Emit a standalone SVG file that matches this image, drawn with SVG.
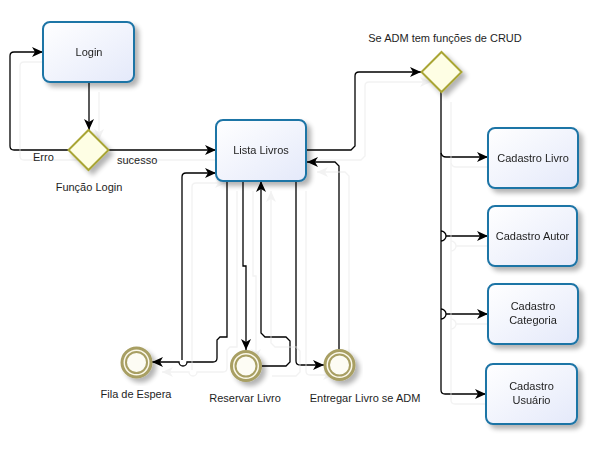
<svg xmlns="http://www.w3.org/2000/svg" width="608" height="449" viewBox="0 0 608 449">
<style>
text{font-family:"Liberation Sans",Arial,sans-serif;font-size:11px;fill:#1e1e1e}
.c{text-anchor:middle}
.task{fill:url(#g);stroke:#1f74a6;stroke-width:2}
.gw{fill:#fefee4;stroke:#a9a534;stroke-width:2}
.ev1{fill:#fbf8ea;stroke:#a89f63;stroke-width:3}
.ev2{fill:#fdfcf4;stroke:#a89f63;stroke-width:2}
.cn path{fill:none;stroke:#000;stroke-width:1.3}
.cn path.a{marker-end:url(#arr)}
</style>
<defs>
<linearGradient id="g" x1="0" y1="0" x2="1" y2="1">
<stop offset="0" stop-color="#ffffff"/>
<stop offset="1" stop-color="#e4e9fa"/>
</linearGradient>
<marker id="arr" markerUnits="userSpaceOnUse" markerWidth="12" markerHeight="10" refX="11" refY="5" orient="auto">
<path d="M0,0 L11,5 L0,10 L3,5 z" fill="#000"/>
</marker>
<filter id="sh" x="-20%" y="-20%" width="150%" height="150%">
<feGaussianBlur in="SourceAlpha" stdDeviation="2.5"/>
<feOffset dx="4" dy="4" result="b"/>
<feComponentTransfer><feFuncA type="linear" slope="0.3"/></feComponentTransfer>
<feMerge><feMergeNode/><feMergeNode in="SourceGraphic"/></feMerge>
</filter>
<filter id="lsh" filterUnits="userSpaceOnUse" x="0" y="0" width="608" height="449">
<feOffset in="SourceAlpha" dx="10" dy="10" result="o"/>
<feFlood flood-color="#f2f2f2"/>
<feComposite in2="o" operator="in"/>
<feMerge><feMergeNode/><feMergeNode in="SourceGraphic"/></feMerge>
</filter>
</defs>
<rect width="608" height="449" fill="#fff"/>

<g id="connectors" class="cn" filter="url(#lsh)">
<path class="a" d="M69,150 H14 Q10,150 10,146 V56 Q10,52 14,52 H43"/>
<path class="a" d="M89,82 V130"/>
<path class="a" d="M108,150 H216"/>
<path class="a" d="M306,150 H351 L355,146 V76 Q355,72 359,72 H421"/>
<path class="a" d="M227,181 V337 H220 L217,340 V358 Q217,362 213,362 H187 A4,4 0 0 1 179,362 H152"/>
<path class="a" d="M182,360 V177 Q182,173 186,173 H216"/>
<path class="a" d="M243,181 V266 H246 V350"/>
<path class="a" d="M262,366 H286 L290,362 V341 L286,337 H265 L261,333 V181"/>
<path class="a" d="M296,181 V361 Q296,365 300,365 H324"/>
<path class="a" d="M339,349 V166 L335,162 H307"/>
<path class="a" d="M441,92 V390 Q441,394 445,394 H486"/>
<path class="a" d="M441,153 Q442,157 446,157 H488"/>
<path d="M441,231 A5,5 0 0 1 441,241"/>
<path class="a" d="M446,236 H488"/>
<path d="M441,309 A5,5 0 0 1 441,319"/>
<path class="a" d="M446,314 H488"/>
</g>

<g id="login" filter="url(#sh)">
<rect class="task" x="43" y="22" width="91" height="60" rx="7"/>
<text class="c" x="89" y="56">Login</text>
</g>
<g id="funcao-login">
<path class="gw" filter="url(#sh)" d="M88.5,130 L108.5,150 L88.5,170 L68.5,150 z"/>
<text class="c" x="89" y="191">Função Login</text>
</g>
<g id="label-erro"><text x="33" y="161">Erro</text></g>
<g id="label-sucesso"><text x="117" y="164">sucesso</text></g>

<g id="lista-livros" filter="url(#sh)">
<rect class="task" x="216" y="120" width="90" height="61" rx="7"/>
<text class="c" x="261" y="154">Lista Livros</text>
</g>

<g id="crud">
<path class="gw" filter="url(#sh)" d="M441.5,52 L461.5,72 L441.5,92 L421.5,72 z"/>
<text class="c" x="445" y="42">Se ADM tem funções de CRUD</text>
</g>

<g id="cadastro-livro" filter="url(#sh)">
<rect class="task" x="488" y="128" width="90" height="60" rx="7"/>
<text class="c" x="533" y="162">Cadastro Livro</text>
</g>
<g id="cadastro-autor" filter="url(#sh)">
<rect class="task" x="488" y="206" width="89" height="60" rx="7"/>
<text class="c" x="532.5" y="240">Cadastro Autor</text>
</g>
<g id="cadastro-categoria" filter="url(#sh)">
<rect class="task" x="488" y="284" width="90" height="60" rx="7"/>
<text class="c" x="533" y="310">Cadastro</text>
<text class="c" x="533" y="324">Categoria</text>
</g>
<g id="cadastro-usuario" filter="url(#sh)">
<rect class="task" x="486" y="364" width="91" height="60" rx="7"/>
<text class="c" x="531.5" y="390">Cadastro</text>
<text class="c" x="531.5" y="404">Usuário</text>
</g>

<g id="fila-espera">
<g filter="url(#sh)">
<circle class="ev1" cx="136.5" cy="362.5" r="14.5"/>
<circle class="ev2" cx="136.5" cy="362.5" r="10.5"/>
</g>
<text class="c" x="136" y="398">Fila de Espera</text>
</g>
<g id="reservar-livro">
<g filter="url(#sh)">
<circle class="ev1" cx="246" cy="366" r="14.5"/>
<circle class="ev2" cx="246" cy="366" r="10.5"/>
</g>
<text class="c" x="245" y="402">Reservar Livro</text>
</g>
<g id="entregar-livro">
<g filter="url(#sh)">
<circle class="ev1" cx="339.5" cy="365" r="14.5"/>
<circle class="ev2" cx="339.5" cy="365" r="10.5"/>
</g>
<text class="c" x="365" y="402">Entregar Livro se ADM</text>
</g>
</svg>
